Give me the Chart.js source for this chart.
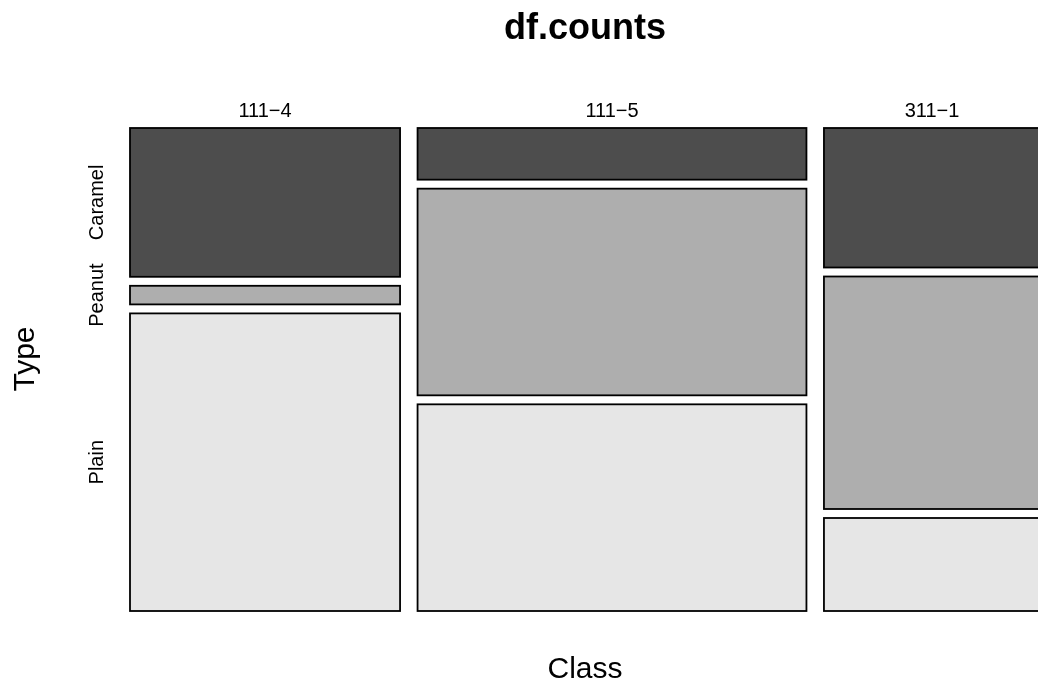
<!DOCTYPE html>
<html lang="en">
<head>
    <meta charset="UTF-8">
    <title>df.counts</title>
    <script src="https://cdn.jsdelivr.net/npm/chart.js"></script>
    <style>
        html, body { margin: 0; padding: 0; background: #fff; overflow: hidden; }
        #wrap { width: 1042px; height: 692px; }
    </style>
</head>
<body>
    <div id="wrap"><canvas id="mosaic"></canvas></div>

    <script>
        // Counts by Class (columns) and Type (rows)
        const classes = ['111\u22124', '111\u22125', '311\u22121'];
        const types = ['Caramel', 'Peanut', 'Plain'];
        const caramel = [8, 4, 6];
        const peanut = [1, 16, 10];
        const plain = [16, 16, 4];

        const counts = [caramel, peanut, plain];
        const shades = ['#4D4D4D', '#AEAEAE', '#E6E6E6'];
        const FONT = '"Liberation Sans", Arial, Helvetica, sans-serif';

        // spacing between tiles, in scale units (scales run 0..1)
        const gapX = 17.5 / 910;
        const gapY = 9 / 483;

        function buildTiles() {
            const totals = classes.map((c, i) => counts.reduce((s, row) => s + row[i], 0));
            const grand = totals.reduce((a, b) => a + b, 0);
            const availX = 1 - gapX * (classes.length - 1);
            const availY = 1 - gapY * (types.length - 1);
            const tiles = [];
            let x0 = 0;
            classes.forEach((c, i) => {
                const w = availX * totals[i] / grand;
                let top = 1;
                types.forEach((t, j) => {
                    const h = availY * counts[j][i] / totals[i];
                    tiles.push({ col: i, row: j, x0: x0, x1: x0 + w, y0: top - h, y1: top });
                    top -= h + gapY;
                });
                x0 += w + gapX;
            });
            return tiles;
        }

        const tiles = buildTiles();

        const mosaicPlugin = {
            id: 'mosaic',
            afterDraw(chart) {
                const { ctx, chartArea, scales: { x, y } } = chart;
                ctx.save();

                // tiles
                tiles.forEach(t => {
                    const px0 = x.getPixelForValue(t.x0);
                    const px1 = x.getPixelForValue(t.x1);
                    const py0 = y.getPixelForValue(t.y1);
                    const py1 = y.getPixelForValue(t.y0);
                    ctx.fillStyle = shades[t.row];
                    ctx.fillRect(px0, py0, px1 - px0, py1 - py0);
                    ctx.lineWidth = 1.8;
                    ctx.strokeStyle = '#000';
                    ctx.strokeRect(px0, py0, px1 - px0, py1 - py0);
                });

                ctx.fillStyle = '#000';
                const midX = (chartArea.left + chartArea.right) / 2;

                // title
                ctx.font = 'bold 36px ' + FONT;
                ctx.textAlign = 'center';
                ctx.textBaseline = 'alphabetic';
                ctx.fillText('df.counts', midX, 39);

                // column labels above the first row of tiles
                ctx.font = '20px ' + FONT;
                classes.forEach((c, i) => {
                    const t = tiles.find(d => d.col === i && d.row === 0);
                    const cx = x.getPixelForValue((t.x0 + t.x1) / 2);
                    ctx.fillText(c, cx, chartArea.top - 11);
                });

                // row labels beside the first column
                types.forEach((name, j) => {
                    const t = tiles.find(d => d.col === 0 && d.row === j);
                    const cy = y.getPixelForValue((t.y0 + t.y1) / 2);
                    ctx.save();
                    ctx.translate(chartArea.left - 27, cy);
                    ctx.rotate(-Math.PI / 2);
                    ctx.fillText(name, 0, 0);
                    ctx.restore();
                });

                // axis titles
                ctx.font = '30px ' + FONT;
                ctx.fillText('Class', midX, 678);
                ctx.save();
                ctx.translate(34, 359);
                ctx.rotate(-Math.PI / 2);
                ctx.fillText('Type', 0, 0);
                ctx.restore();

                ctx.restore();
            }
        };

        new Chart(document.getElementById('mosaic'), {
            type: 'scatter',
            data: { datasets: [] },
            options: {
                responsive: true,
                maintainAspectRatio: false,
                animation: false,
                layout: { padding: { left: 130, right: 2, top: 128, bottom: 81 } },
                plugins: {
                    legend: { display: false },
                    tooltip: { enabled: false }
                },
                scales: {
                    x: { type: 'linear', min: 0, max: 1, display: false },
                    y: { type: 'linear', min: 0, max: 1, display: false }
                }
            },
            plugins: [mosaicPlugin]
        });
    </script>
</body>
</html>
